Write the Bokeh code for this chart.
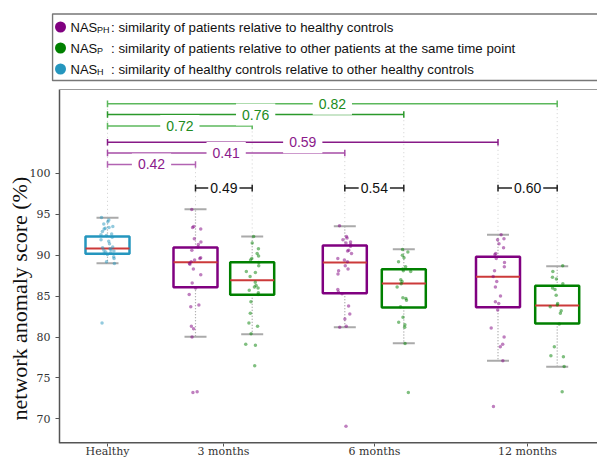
from bokeh.plotting import figure
from bokeh.models import ColumnDataSource, Range1d, FixedTicker, Label, Title
from bokeh.transform import jitter
from bokeh.core.properties import value
from bokeh.embed import file_html
from bokeh.resources import INLINE

# ---------------- data ----------------
groups = ["Healthy", "3 months", "6 months", "12 months"]
box_names = ["H", "P3", "G3", "P6", "G6", "P12", "G12"]

q1 = [90.17, 86.09, 85.16, 85.35, 83.60, 83.64, 81.65]
med = [90.82, 89.15, 86.95, 89.11, 86.54, 87.36, 83.85]
q3 = [92.29, 90.94, 89.15, 91.19, 88.29, 89.80, 86.26]
wlo = [89.02, 80.02, 80.34, 81.20, 79.24, 77.09, 76.36]
whi = [94.57, 95.62, 92.29, 93.55, 90.73, 92.49, 88.66]

healthy_pts = [94.6, 94.3, 94.1, 93.8, 93.5, 93.4, 93.3, 93.2, 92.9, 92.6, 92.5, 92.4, 92.2,
               91.9, 91.7, 91.4, 91.0, 90.9, 90.8, 90.7, 90.6, 90.5, 90.4, 90.3, 90.2, 90.1,
               89.8, 89.6, 89.2, 89.0, 81.7]
p3_pts = [95.6, 93.5, 93.4, 93.2, 92.0, 91.6, 91.3, 91.0, 90.6, 89.7, 89.6, 89.4, 89.2, 89.0,
          88.9, 88.3, 87.6, 86.6, 86.0, 85.2, 83.9, 83.7, 81.3, 81.0, 80.0, 73.3, 73.2]
g3_pts = [92.3, 91.5, 90.8, 90.2, 89.9, 89.6, 89.4, 89.1, 88.7, 88.0, 87.9, 87.4, 86.7, 86.3,
          86.1, 86.0, 85.7, 85.4, 85.2, 84.3, 82.9, 81.7, 81.3, 80.4, 79.1, 79.0, 76.5]
p6_pts = [93.6, 92.3, 92.1, 91.9, 91.6, 91.5, 91.3, 91.1, 90.6, 90.5, 90.2, 89.6, 89.4, 89.2,
          88.7, 88.3, 88.1, 87.7, 85.8, 85.5, 85.3, 83.8, 82.8, 82.2, 81.3, 81.2, 69.1]
g6_pts = [90.7, 90.4, 90.0, 89.7, 89.2, 88.6, 88.3, 88.1, 88.0, 87.0, 86.8, 86.5, 86.1, 84.8,
          84.7, 84.5, 83.7, 82.4, 81.8, 81.5, 81.2, 79.2, 73.2]
p12_pts = [92.5, 92.0, 91.9, 91.4, 90.9, 90.2, 90.1, 89.6, 89.1, 88.6, 88.1, 87.4, 86.8, 86.1,
           85.0, 84.3, 84.1, 83.3, 81.1, 80.0, 79.1, 78.8, 77.1, 71.5]
g12_pts = [88.7, 88.0, 87.3, 87.1, 86.5, 86.0, 85.8, 85.1, 84.1, 83.9, 83.7, 83.2, 82.9, 81.6,
           78.8, 77.7, 77.6, 76.4, 73.3]
all_pts = [healthy_pts, p3_pts, g3_pts, p6_pts, g6_pts, p12_pts, g12_pts]

# comparison brackets: from box, to box, label
br_from = [0, 0, 0, 0, 0, 0, 1, 3, 5]
br_to = [6, 4, 2, 5, 3, 1, 2, 4, 6]
br_labels = ["0.82", "0.76", "0.72", "0.59", "0.41", "0.42", "0.49", "0.54", "0.60"]

legend_subs = ["PH", "P", "H"]
legend_texts = [": similarity of patients relative to healthy controls",
                ": similarity of patients relative to other patients at the same time point",
                ": similarity of healthy controls relative to other healthy controls"]

yticks = [70, 75, 80, 85, 90, 95, 100]
ylabel = "network anomaly score (%)"

# ---------------- layout / style ----------------
positions = [107, 195, 251.7, 344.3, 403.3, 497.5, 556.7]
group_ticks = [107, 223, 374, 527]
br_levels = [108.5, 107.2, 105.8, 103.8, 102.5, 101.1, 98.2, 98.2, 98.2]
br_line_colors = ["#5cb85c", "#2b992b", "#5cb85c", "#871a87", "#a64ca6", "#b263b2",
                  "#222222", "#222222", "#222222"]
br_text_colors = ["#218c21", "#218c21", "#218c21", "#8b1a8b", "#8b1a8b", "#8b1a8b",
                  "#111111", "#111111", "#111111"]
br_pad = [6, 6, 6, 6, 6, 6, 2, 2, 2]
HCOL, PCOL, GCOL = "#2596be", "#800080", "#008000"
box_colors = [HCOL, PCOL, GCOL, PCOL, GCOL, PCOL, GCOL]
legend_colors = [PCOL, GCOL, HCOL]
half_w = 22
cap_w = 11

W, H = 597, 460
FL = 51                     # frame left on the page (legend box edge)
SPINE_X = 59                # left spine position (data == page px)
FB = 443                    # frame bottom on the page
PX_PER_UNIT = 8.18
Y70 = 418.3                 # page y of the 70 tick


def py2d(page_y):
    return 70 + (Y70 - page_y) / PX_PER_UNIT


Y0 = py2d(FB)
YTOP = py2d(0)
YSPINE_TOP = py2d(89)

p = figure(width=W, height=H, x_range=Range1d(FL, W), y_range=Range1d(Y0, YTOP),
           output_backend="svg", toolbar_location=None,
           min_border_left=FL, min_border_right=0, min_border_top=0,
           min_border_bottom=H - FB)
p.title.visible = False
p.xgrid.visible = False
p.ygrid.visible = False
p.outline_line_color = None

# spines / top line
p.segment(x0=[SPINE_X], y0=[Y0], x1=[SPINE_X], y1=[YSPINE_TOP], line_color="#555555",
          line_width=1.5)
p.segment(x0=[SPINE_X], y0=[Y0], x1=[W], y1=[Y0], line_color="#555555", line_width=3)
p.segment(x0=[SPINE_X], y0=[YSPINE_TOP], x1=[W], y1=[YSPINE_TOP], line_color="#9a9a9a",
          line_width=1.2)

# guides from top whisker to highest bracket
guide_top = []
for i in range(len(positions)):
    lv = [br_levels[k] for k in range(len(br_from)) if br_from[k] == i or br_to[k] == i]
    guide_top.append(max(lv))
p.segment(x0=positions, y0=whi, x1=positions, y1=guide_top, line_color="#cfcfcf",
          line_dash="1 3", line_width=1)

# whiskers
p.segment(x0=positions, y0=q3, x1=positions, y1=whi, line_color="#9a9a9a",
          line_dash="1 2", line_width=1.2)
p.segment(x0=positions, y0=q1, x1=positions, y1=wlo, line_color="#9a9a9a",
          line_dash="1 2", line_width=1.2)
# caps
p.segment(x0=[x - cap_w for x in positions], y0=whi, x1=[x + cap_w for x in positions],
          y1=whi, line_color="#aaaaaa", line_width=2)
p.segment(x0=[x - cap_w for x in positions], y0=wlo, x1=[x + cap_w for x in positions],
          y1=wlo, line_color="#aaaaaa", line_width=2)

# boxes
p.quad(left=[x - half_w for x in positions], right=[x + half_w for x in positions],
       bottom=q1, top=q3, fill_color=None, line_color=box_colors, line_width=2.5)
p.segment(x0=[x - half_w for x in positions], y0=med, x1=[x + half_w for x in positions],
          y1=med, line_color="#cc3a3a", line_width=2)

# points
px, pyv, pc = [], [], []
for i, pts in enumerate(all_pts):
    px += [positions[i]] * len(pts)
    pyv += pts
    pc += [box_colors[i]] * len(pts)
src = ColumnDataSource(dict(x=px, y=pyv, c=pc))
p.scatter(x=jitter("x", width=14, distribution="uniform"), y="y", color="c", source=src,
          size=3.5, alpha=0.5, line_color=None)

# brackets
bx0 = [positions[i] for i in br_from]
bx1 = [positions[i] for i in br_to]
p.segment(x0=bx0, y0=br_levels, x1=bx1, y1=br_levels, line_color=br_line_colors,
          line_width=1.5)
p.segment(x0=bx0, y0=[v - 0.4 for v in br_levels], x1=bx0, y1=[v + 0.4 for v in br_levels],
          line_color=br_line_colors, line_width=1.5)
p.segment(x0=bx1, y0=[v - 0.4 for v in br_levels], x1=bx1, y1=[v + 0.4 for v in br_levels],
          line_color=br_line_colors, line_width=1.5)
for k in range(len(br_labels)):
    p.add_layout(Label(x=(bx0[k] + bx1[k]) / 2, y=br_levels[k], text=br_labels[k],
                       text_align="center", text_baseline="middle",
                       text_font="Liberation Sans", text_font_size="14px",
                       text_color=br_text_colors[k], background_fill_color="white",
                       padding=br_pad[k]))

# legend (inside the frame, above the axes area)
legend_rows = [26.5, 47.5, 68.5]
ly = [py2d(r) for r in legend_rows]
p.quad(left=[52], right=[W + 20], top=[py2d(13.5)], bottom=[py2d(80)], fill_color=None,
       line_color="#777777", line_width=1.5)
p.scatter(x=[60] * 3, y=ly, size=11, color=legend_colors, line_color=None)
p.text(x=[70] * 3, y=ly, text=["NAS"] * 3, text_font=value("Liberation Sans"),
       text_font_size="13px", text_baseline="middle", text_color="#111111")
p.text(x=[96.5] * 3, y=[py2d(r + 3) for r in legend_rows], text=legend_subs,
       text_font=value("Liberation Sans"), text_font_size="9px", text_baseline="middle",
       text_color="#111111")
p.text(x=[110.5] * 3, y=ly, text=legend_texts, text_font=value("Liberation Sans"),
       text_font_size="13.3px", text_baseline="middle", text_color="#111111")

# y label as a left-side title, placed along the axis from its lower end
p.add_layout(Title(text=ylabel, align="left", offset=23, standoff=-10,
                   text_font="Liberation Serif", text_font_size="22px",
                   text_font_style="normal", text_color="#111111"), "left")

# axes
p.yaxis.ticker = FixedTicker(ticks=yticks)
p.xaxis.ticker = FixedTicker(ticks=group_ticks)
p.xaxis.major_label_overrides = {t: g for t, g in zip(group_ticks, groups)}
for ax in (p.xaxis[0], p.yaxis[0]):
    ax.axis_line_color = None
    ax.major_tick_line_color = "#555555"
    ax.minor_tick_out = 0
    ax.minor_tick_in = 0
    ax.major_label_text_font = "DejaVu Serif"
    ax.major_label_text_font_size = "11px"
    ax.major_label_text_color = "#333333"
p.xaxis.major_tick_out = 3
p.xaxis.major_tick_in = 0
p.xaxis.major_label_standoff = -2
p.yaxis.major_tick_out = -(SPINE_X - FL - 4)
p.yaxis.major_tick_in = SPINE_X - FL
p.yaxis.major_label_standoff = 1

open("out.html", "w").write(file_html(p, INLINE))
